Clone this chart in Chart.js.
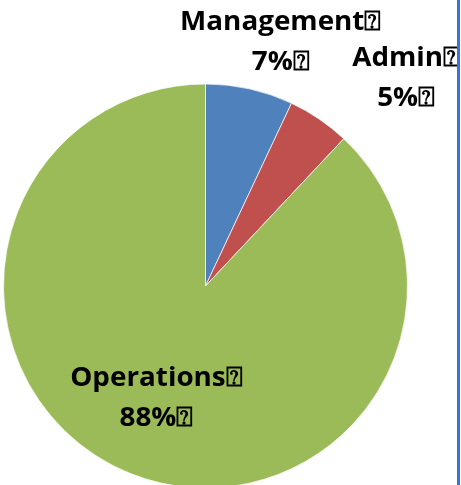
<!DOCTYPE html>
<html lang="en">
<head>
    <meta charset="UTF-8">
    <script src="https://cdn.jsdelivr.net/npm/chart.js"></script>
    <title>Staff Split</title>
    <style>
        html, body { margin: 0; padding: 0; background: #fff; }
        #wrap { position: relative; width: 461px; height: 485px; overflow: hidden; }
        #frame { position: absolute; left: 457px; top: 0; width: 3px; height: 485px; background: #3f6fe0; }
    </style>
</head>
<body>
    <div id="wrap">
        <canvas id="pieChart" width="461" height="490"></canvas>
        <div id="frame"></div>
    </div>

    <script>
        // chart data
        const categories = ['Management', 'Admin', 'Operations'];
        const shares = [7, 5, 88];
        const sliceColors = ['#4f81bd', '#c0504d', '#9bbb59'];

        // where each label block sits: [angle in degrees from 12 o'clock, radius factor]
        const labelSpots = [[17, 1.27], [43.7, 1.436], [204, 0.6]];
        const TOFU = '\u2370';

        const labelPlugin = {
            id: 'sliceLabels',
            afterDatasetsDraw(chart) {
                const ctx = chart.ctx;
                const meta = chart.getDatasetMeta(0);
                const total = shares.reduce((a, b) => a + b, 0);
                ctx.save();
                ctx.fillStyle = '#000';
                ctx.font = 'bold 27px "Open Sans"';
                ctx.textAlign = 'center';
                ctx.textBaseline = 'middle';
                meta.data.forEach((arc, i) => {
                    const p = arc.getProps(['x', 'y', 'outerRadius'], true);
                    const a = (labelSpots[i][0] - 90) * Math.PI / 180;
                    const cx = p.x + Math.cos(a) * labelSpots[i][1] * p.outerRadius;
                    const cy = p.y + Math.sin(a) * labelSpots[i][1] * p.outerRadius;
                    const pct = Math.round(shares[i] / total * 100) + '%';
                    [categories[i] + TOFU, pct + TOFU].forEach((t, j) => {
                        ctx.save();
                        ctx.translate(cx, cy - 18 + j * 40);
                        ctx.scale(1.03, 1);
                        ctx.fillText(t, 0, 0);
                        ctx.restore();
                    });
                });
                ctx.restore();
            }
        };

        const ctx = document.getElementById('pieChart').getContext('2d');
        new Chart(ctx, {
            type: 'pie',
            data: {
                labels: categories,
                datasets: [{
                    data: shares,
                    backgroundColor: sliceColors,
                    borderColor: 'rgba(255,255,255,0.7)',
                    borderWidth: 1
                }]
            },
            options: {
                responsive: false,
                animation: false,
                layout: { padding: { left: 3, right: 53, top: 83, bottom: 1 } },
                plugins: {
                    legend: { display: false },
                    tooltip: { enabled: false }
                }
            },
            plugins: [labelPlugin]
        });
    </script>
</body>
</html>
